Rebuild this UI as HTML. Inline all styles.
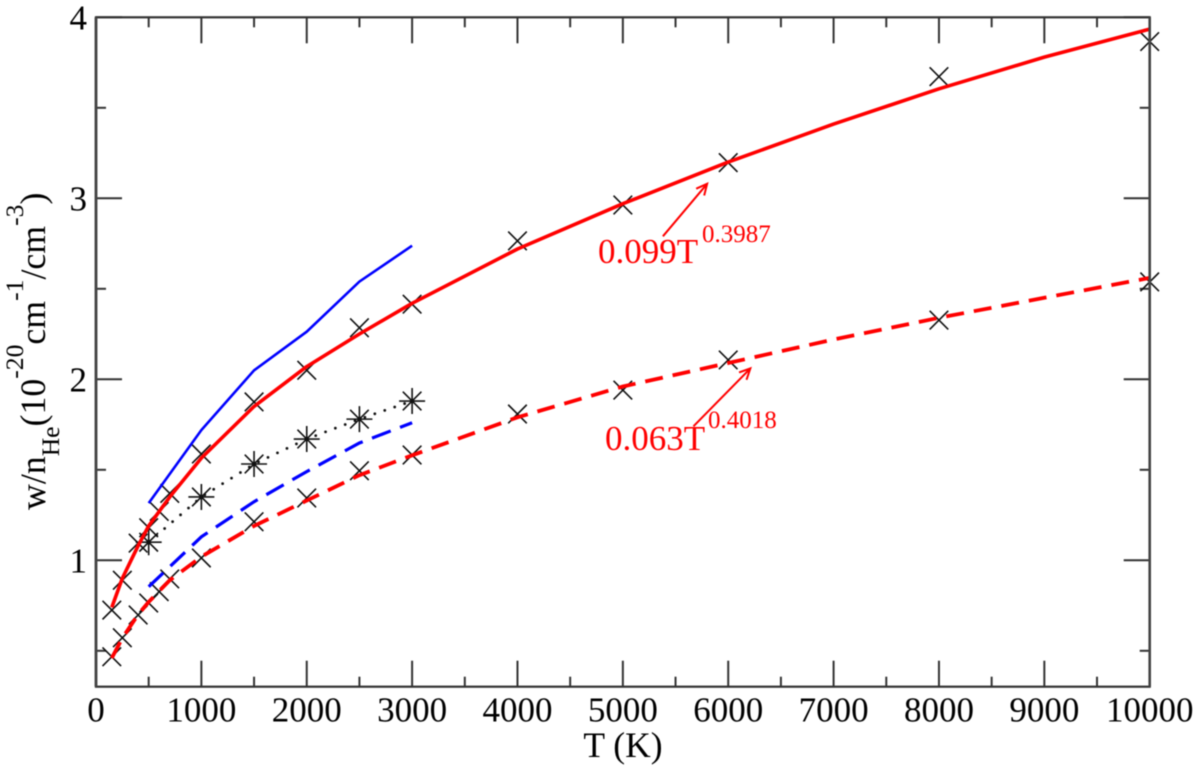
<!DOCTYPE html>
<html lang="en">
<head>
<meta charset="utf-8">
<title>w/nHe versus temperature</title>
<style>
  html, body { margin: 0; padding: 0; background: #fff; }
  #chart { display: block; width: 1200px; height: 768px; font-family: "Liberation Serif", serif; filter: blur(0.45px); }
</style>
</head>
<body>
<svg id="chart" xmlns="http://www.w3.org/2000/svg" width="1200" height="768" viewBox="0 0 1200 768">
  <rect x="0" y="0" width="1200" height="768" fill="#ffffff"/>
  <g id="grid-ticks"></g>
  <g id="markers"></g>
  <g id="lines"></g>
  <g id="frame"></g>
  <g id="labels" font-size="35" fill="#000"></g>
  <text x="623" y="757" font-size="35.5" text-anchor="middle" fill="#000">T (K)</text>
  <text transform="translate(45 510) rotate(-90)" font-size="35.8" fill="#000">w/n<tspan font-size="25.6" dy="14">He</tspan><tspan dy="-14">(10</tspan><tspan font-size="25.6" dy="-22">-20</tspan><tspan dy="22">cm</tspan><tspan font-size="25.6" dy="-22">-1</tspan><tspan dy="22">/cm</tspan><tspan font-size="25.6" dy="-22">-3</tspan><tspan dy="22">)</tspan></text>
  <g fill="#ff0000">
    <text x="598" y="263" font-size="35">0.099T</text>
    <text x="702" y="242" font-size="25">0.3987</text>
  </g>
  <g fill="#ff0000">
    <text x="605" y="450" font-size="35">0.063T</text>
    <text x="708" y="428" font-size="25">0.4018</text>
  </g>
  <g id="arrows"></g>
</svg>
<script>
// Chart data
const xTicksMajor = [0, 1000, 2000, 3000, 4000, 5000, 6000, 7000, 8000, 9000, 10000];
const xTicksMinor = [500, 1500, 2500, 3500, 4500, 5500, 6500, 7500, 8500, 9500];
const yTicksMajor = [1, 2, 3, 4];
const yTicksMinor = [0.5, 1.5, 2.5, 3.5];
const xTickLabels = ["0", "1000", "2000", "3000", "4000", "5000", "6000", "7000", "8000", "9000", "10000"];
const yTickLabels = ["1", "2", "3", "4"];

const upperCrossT = [150, 250, 400, 500, 600, 700, 1000, 1500, 2000, 2500, 3000, 4000, 5000, 6000, 8000, 10000];
const upperCrossV = [0.725, 0.89, 1.095, 1.18, 1.27, 1.37, 1.587, 1.875, 2.05, 2.285, 2.415, 2.765, 2.963, 3.197, 3.672, 3.866];
const lowerCrossT = [150, 250, 400, 500, 600, 700, 1000, 1500, 2000, 2500, 3000, 4000, 5000, 6000, 8000, 10000];
const lowerCrossV = [0.467, 0.572, 0.698, 0.764, 0.827, 0.897, 1.013, 1.213, 1.344, 1.495, 1.582, 1.808, 1.94, 2.107, 2.327, 2.538];

const starT = [500, 1000, 1500, 2000, 2500, 3000];
const starV = [1.10, 1.35, 1.532, 1.67, 1.78, 1.88];

const blueSolidT = [500, 1000, 1500, 2000, 2500, 3000];
const blueSolidV = [1.316, 1.72, 2.05, 2.263, 2.54, 2.738];
const blueDashT = [500, 1000, 1500, 2000, 2500, 3000];
const blueDashV = [0.854, 1.13, 1.324, 1.49, 1.648, 1.76];

const redSolidT = [150, 250, 400, 500, 600, 700, 1000, 1500, 2000, 2500, 3000, 4000, 5000, 6000, 7000, 8000, 9000, 10000];
const redSolidV = [0.74, 0.90, 1.08, 1.19, 1.27, 1.35, 1.565, 1.85, 2.07, 2.25, 2.42, 2.72, 2.97, 3.2, 3.41, 3.605, 3.78, 3.935];
const redDashT = [150, 250, 400, 500, 600, 700, 1000, 1500, 2000, 2500, 3000, 4000, 5000, 6000, 7000, 8000, 9000, 10000];
const redDashV = [0.46, 0.57, 0.70, 0.77, 0.83, 0.89, 1.02, 1.19, 1.33, 1.47, 1.58, 1.79, 1.96, 2.09, 2.22, 2.34, 2.45, 2.56];

const upperArrowT = [5380, 5800];
const upperArrowV = [2.79, 3.08];
const lowerArrowT = [5670, 6210];
const lowerArrowV = [1.74, 2.06];

// Axis functions
const NS = "http://www.w3.org/2000/svg";
const X0 = 96, X1 = 1149.7, Y4 = 17.3, Y1 = 560.3, YBOTTOM = 686.7;
function xAxis(t) { return X0 + (X1 - X0) * t / 10000; }
function yAxis(v) { return Y1 - (Y1 - Y4) * (v - 1) / 3; }

function make(tag, attrs, parent) {
  const node = document.createElementNS(NS, tag);
  for (const k in attrs) node.setAttribute(k, attrs[k]);
  parent.appendChild(node);
  return node;
}
function pathOf(ts, vs) {
  return ts.map(function (t, i) {
    return (i ? "L" : "M") + xAxis(t).toFixed(1) + " " + yAxis(vs[i]).toFixed(1);
  }).join(" ");
}

// Ticks
const tickGroup = document.getElementById("grid-ticks");
function tickLine(x1, y1, x2, y2, parent) {
  return make("line", { x1: x1, y1: y1, x2: x2, y2: y2, stroke: "#333", "stroke-width": 2 }, parent);
}
xTicksMajor.forEach(function (t) {
  const x = xAxis(t);
  const b = tickLine(x, YBOTTOM, x, YBOTTOM - 26, tickGroup);
  
  
  const a = tickLine(x, Y4, x, Y4 + 26, tickGroup);
  
  
});
xTicksMinor.forEach(function (t) {
  const x = xAxis(t);
  const b = tickLine(x, YBOTTOM, x, YBOTTOM - 10, tickGroup);
  
  
  const a = tickLine(x, Y4, x, Y4 + 10, tickGroup);
  
  
});
yTicksMajor.forEach(function (v) {
  const y = yAxis(v);
  const l = tickLine(X0, y, X0 + 26, y, tickGroup);
  
  
  const r = tickLine(X1, y, X1 - 26, y, tickGroup);
  
  
});
yTicksMinor.forEach(function (v) {
  const y = yAxis(v);
  const l = tickLine(X0, y, X0 + 10, y, tickGroup);
  
  
  const r = tickLine(X1, y, X1 - 10, y, tickGroup);
  
  
});

// Tick labels
const labelGroup = document.getElementById("labels");
xTicksMajor.forEach(function (t, i) {
  const txt = make("text", { x: xAxis(t), y: 721.7, "text-anchor": "middle" }, labelGroup);
  txt.textContent = xTickLabels[i];
  
  
});
yTicksMajor.forEach(function (v, i) {
  const txt = make("text", { x: 87, y: yAxis(v) + 12.3, "text-anchor": "end" }, labelGroup);
  txt.textContent = yTickLabels[i];
  
  
});

// Markers
const markerGroup = document.getElementById("markers");
const CROSS = 9.3;
function drawCross(t, v) {
  const x = xAxis(t), y = yAxis(v);
  return make("path", {
    d: "M" + (x - CROSS) + " " + (y - CROSS) + "L" + (x + CROSS) + " " + (y + CROSS) +
       "M" + (x - CROSS) + " " + (y + CROSS) + "L" + (x + CROSS) + " " + (y - CROSS),
    stroke: "#111", "stroke-width": 1.6, fill: "none"
  }, markerGroup);
}
upperCrossT.forEach(function (t, i) {
  const m = drawCross(t, upperCrossV[i]);
  
  
});
lowerCrossT.forEach(function (t, i) {
  const m = drawCross(t, lowerCrossV[i]);
  
  
});
starT.forEach(function (t, i) {
  const x = xAxis(t), y = yAxis(starV[i]);
  const s = make("path", {
    d: "M" + (x - 13) + " " + y + "L" + (x + 13) + " " + y +
       "M" + x + " " + (y - 13) + "L" + x + " " + (y + 13) +
       "M" + (x - 9.3) + " " + (y - 9.3) + "L" + (x + 9.3) + " " + (y + 9.3) +
       "M" + (x - 9.3) + " " + (y + 9.3) + "L" + (x + 9.3) + " " + (y - 9.3),
    stroke: "#111", "stroke-width": 1.6, fill: "none"
  }, markerGroup);
  
  
  const c = make("circle", { cx: x, cy: y, r: 2.2, fill: "#111" }, markerGroup);
  
  
});

// Lines
const lineGroup = document.getElementById("lines");
const dottedLine = make("path", { d: pathOf(starT, starV), fill: "none", stroke: "#111", "stroke-width": 2.8, "stroke-linecap": "round", "stroke-dasharray": "0 10.5" }, lineGroup);


const blueSolid = make("path", { d: pathOf(blueSolidT, blueSolidV), fill: "none", stroke: "#0000ff", "stroke-width": 2.6 }, lineGroup);


const blueDash = make("path", { d: pathOf(blueDashT, blueDashV), fill: "none", stroke: "#0000ff", "stroke-width": 3.2, "stroke-dasharray": "20 10" }, lineGroup);


const redSolid = make("path", { d: pathOf(redSolidT, redSolidV), fill: "none", stroke: "#ff0000", "stroke-width": 3.6, "stroke-linejoin": "round" }, lineGroup);


const redDash = make("path", { d: pathOf(redDashT, redDashV), fill: "none", stroke: "#ff0000", "stroke-width": 3.8, "stroke-dasharray": "18 10" }, lineGroup);



// Frame
const frameGroup = document.getElementById("frame");
const frameRect = make("rect", { x: X0, y: Y4, width: X1 - X0, height: YBOTTOM - Y4, fill: "none", stroke: "#333", "stroke-width": 2.2 }, frameGroup);


const frameLeft = make("line", { x1: X0, y1: Y4, x2: X0, y2: YBOTTOM, stroke: "#444", "stroke-width": 2.8 }, frameGroup);


const frameRight = make("line", { x1: X1, y1: Y4, x2: X1, y2: YBOTTOM, stroke: "#444", "stroke-width": 2.6 }, frameGroup);



// Arrows
const arrowGroup = document.getElementById("arrows");
function drawArrow(ts, vs) {
  const x1 = xAxis(ts[0]), y1 = yAxis(vs[0]), x2 = xAxis(ts[1]), y2 = yAxis(vs[1]);
  const ang = Math.atan2(y2 - y1, x2 - x1), h = 12, w = 0.45;
  const d = "M" + x1 + " " + y1 + "L" + x2 + " " + y2 +
    "M" + (x2 - h * Math.cos(ang - w)) + " " + (y2 - h * Math.sin(ang - w)) +
    "L" + x2 + " " + y2 +
    "L" + (x2 - h * Math.cos(ang + w)) + " " + (y2 - h * Math.sin(ang + w));
  return make("path", { d: d, fill: "none", stroke: "#ff0000", "stroke-width": 2 }, arrowGroup);
}
const upperArrow = drawArrow(upperArrowT, upperArrowV);


const lowerArrow = drawArrow(lowerArrowT, lowerArrowV);


</script>
</body>
</html>
